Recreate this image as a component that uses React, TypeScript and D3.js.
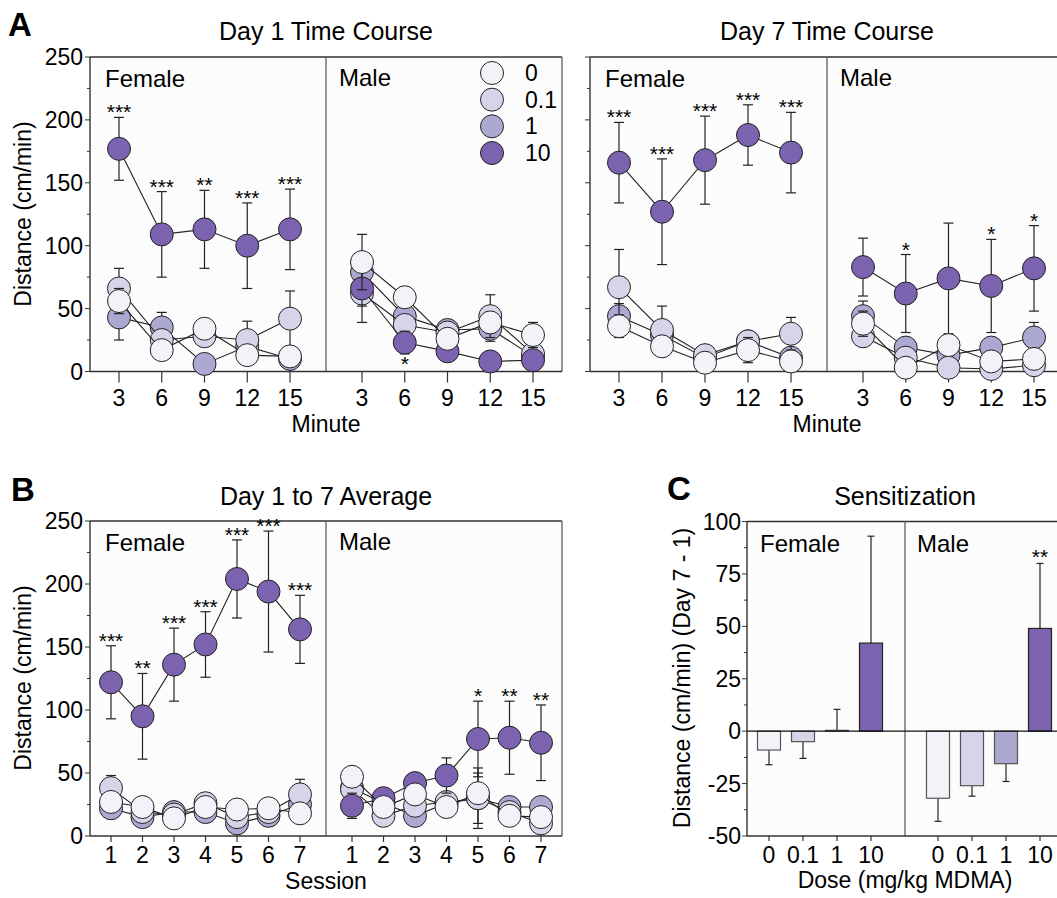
import * as d3 from "d3";

const W = 1057;
const H = 898;
const FONT = '"Liberation Sans", Arial, Helvetica, sans-serif';
const LINE = "#333";
const DIV = "#6a6a6a";
const BG = "#fcfcfc";

const DOSES = ["0", "0.1", "1", "10"];
const DOSE_FILL = ["#f3f2f9", "#d6d4e9", "#aba8d1", "#7b63b0"];
// symbols are stacked in this order (last on top)
const DRAW_ORDER = [2, 1, 3, 0];

const MINUTES = [3, 6, 9, 12, 15];
const SESSIONS = [1, 2, 3, 4, 5, 6, 7];
const Y_TICKS = [0, 50, 100, 150, 200, 250];
const Y_MINOR = [25, 75, 125, 175, 225];
const C_TICKS = [-50, -25, 0, 25, 50, 75, 100];
const C_MINOR = [-37.5, -12.5, 12.5, 37.5, 62.5, 87.5];

// Day 1 time course (rows: dose 0, 0.1, 1, 10)
const D1_F_MEAN = [
  [56, 17, 34, 13, 12],
  [66, 25, 28, 25, 42],
  [43, 35, 6, 20, 10],
  [177, 109, 113, 100, 113],
];
const D1_F_SEM = [
  [10, 6, 5, 5, 4],
  [16, 8, 8, 15, 22],
  [18, 12, 5, 6, 4],
  [25, 34, 31, 34, 32],
];
const D1_F_STARS = ["***", "***", "**", "***", "***"];

const D1_M_MEAN = [
  [87, 59, 26, 39, 29],
  [62, 37, 31, 44, 14],
  [79, 44, 33, 34, 12],
  [66, 23, 16, 8, 9],
];
const D1_M_SEM = [
  [22, 8, 5, 8, 10],
  [10, 6, 4, 17, 5],
  [15, 6, 4, 10, 4],
  [27, 9, 5, 4, 3],
];
const D1_M_STARS = ["", "*", "", "", ""];
const D1_M_STAR_BELOW = [false, true, false, false, false];

// Day 7 time course
const D7_F_MEAN = [
  [36, 20, 7, 17, 8],
  [67, 33, 13, 24, 30],
  [44, 29, 11, 24, 11],
  [166, 127, 168, 188, 174],
];
const D7_F_SEM = [
  [9, 5, 3, 10, 3],
  [30, 19, 5, 8, 13],
  [10, 6, 5, 8, 5],
  [32, 42, 35, 24, 32],
];
const D7_F_STARS = ["***", "***", "***", "***", "***"];

const D7_M_MEAN = [
  [38, 3, 21, 8, 10],
  [28, 11, 3, 2, 5],
  [44, 19, 13, 19, 27],
  [83, 62, 74, 68, 82],
];
const D7_M_SEM = [
  [10, 3, 8, 6, 4],
  [8, 4, 3, 3, 3],
  [12, 8, 8, 8, 12],
  [23, 31, 44, 37, 34],
];
const D7_M_STARS = ["", "*", "", "*", "*"];

// Day 1 to 7 average
const AVG_F_MEAN = [
  [27, 23, 14, 23, 21, 22, 18],
  [38, 19, 17, 26, 15, 19, 33],
  [22, 15, 19, 19, 10, 16, 25],
  [122, 95, 136, 152, 204, 194, 164],
];
const AVG_F_SEM = [
  [5, 4, 4, 4, 3, 4, 4],
  [10, 5, 4, 5, 4, 4, 12],
  [4, 3, 3, 3, 4, 3, 5],
  [29, 34, 29, 26, 31, 48, 27],
];
const AVG_F_STARS = ["***", "**", "***", "***", "***", "***", "***"];

const AVG_M_MEAN = [
  [47, 23, 33, 23, 34, 16, 15],
  [37, 16, 24, 27, 30, 19, 10],
  [38, 26, 16, 26, 30, 23, 23],
  [24, 30, 42, 48, 77, 78, 74],
];
const AVG_M_SEM = [
  [8, 4, 5, 4, 5, 4, 4],
  [5, 4, 5, 5, 24, 3, 4],
  [5, 3, 3, 4, 20, 4, 4],
  [10, 4, 5, 14, 30, 29, 30],
];
const AVG_M_STARS = ["", "", "", "", "*", "**", "**"];

// Sensitization (Day 7 - Day 1)
const SENS_F_MEAN = [-9, -5, 0.4, 42];
const SENS_F_SEM = [7, 8, 10, 51];
const SENS_F_STARS = ["", "", "", ""];
const SENS_M_MEAN = [-32, -26, -15.5, 49];
const SENS_M_SEM = [11, 5, 8.5, 31];
const SENS_M_STARS = ["", "", "", "**"];

type Group = {
  mean: number[][];
  sem: number[][];
  stars: string[];
  below?: boolean[];
};

function Series({ xs, y, g, cap }: { xs: (v: number) => number; y: d3.ScaleLinear<number, number>; g: Group & { xv: number[] }; cap: number }) {
  const line = d3
    .line<number>()
    .x((_, i) => xs(g.xv[i]))
    .y((v) => y(v));
  return (
    <g>
      {DRAW_ORDER.map((d) => (
        <g key={d}>
          {g.mean[d].map((v, i) => {
            const cx = xs(g.xv[i]);
            const y1 = y(v + g.sem[d][i]);
            const y2 = y(v - g.sem[d][i]);
            return (
              <g key={i} stroke="#222" strokeWidth={1.2}>
                <line x1={cx} x2={cx} y1={y1} y2={y2} />
                <line x1={cx - cap / 2} x2={cx + cap / 2} y1={y1} y2={y1} />
                <line x1={cx - cap / 2} x2={cx + cap / 2} y1={y2} y2={y2} />
              </g>
            );
          })}
          <path d={line(g.mean[d]) || ""} fill="none" stroke="#222" strokeWidth={1.1} />
          {g.mean[d].map((v, i) => (
            <circle key={i} cx={xs(g.xv[i])} cy={y(v)} r={11.5} fill={DOSE_FILL[d]} stroke="#222" strokeWidth={1} />
          ))}
        </g>
      ))}
      {g.stars.map((s, i) => {
        if (!s) return null;
        const top = g.mean[3][i] + g.sem[3][i];
        const bot = g.mean[3][i] - g.sem[3][i];
        const below = g.below && g.below[i];
        return (
          <text
            key={i}
            x={xs(g.xv[i])}
            y={below ? y(bot) + 17 : y(top) + 2}
            textAnchor="middle"
            fontSize={21}
            fontFamily={FONT}
          >
            {s}
          </text>
        );
      })}
    </g>
  );
}

function YAxis({ x, y, ticks, minor, labels, labelX }: { x: number; y: d3.ScaleLinear<number, number>; ticks: number[]; minor: number[]; labels: boolean; labelX: number }) {
  return (
    <g>
      {ticks.map((t) => (
        <g key={t}>
          <line x1={x - 5} x2={x} y1={y(t)} y2={y(t)} stroke={LINE} strokeWidth={1} />
          {labels && (
            <text x={labelX} y={y(t) + 8} textAnchor="end" fontSize={23} fontFamily={FONT}>
              {t}
            </text>
          )}
        </g>
      ))}
      {minor.map((t) => (
        <line key={t} x1={x - 3} x2={x} y1={y(t)} y2={y(t)} stroke={LINE} strokeWidth={1} />
      ))}
    </g>
  );
}

function Frame({ left, divider, right, top, bottom }: { left: number; divider: number; right: number; top: number; bottom: number }) {
  return (
    <g>
      <rect x={left} y={top} width={right - left} height={bottom - top} fill={BG} />
      <line x1={left} x2={right} y1={top} y2={top} stroke={LINE} strokeWidth={1.4} />
      <line x1={right} x2={right} y1={top} y2={bottom} stroke={DIV} strokeWidth={1.4} />
      <line x1={divider} x2={divider} y1={top} y2={bottom} stroke={DIV} strokeWidth={1.4} />
      <line x1={left} x2={left} y1={top} y2={bottom} stroke={LINE} strokeWidth={1.4} />
      <line x1={left} x2={right} y1={bottom} y2={bottom} stroke={LINE} strokeWidth={1.4} />
    </g>
  );
}

type LinePanelProps = {
  left: number;
  divider: number;
  right: number;
  top: number;
  bottom: number;
  xv: number[];
  padOut: number;
  padIn: number;
  tickLen: number;
  labelDy: number;
  female: Group;
  male: Group;
  yLabels: boolean;
  cap: number;
};

function LinePanel(p: LinePanelProps) {
  const y = d3.scaleLinear().domain([0, 250]).range([p.bottom, p.top]);
  const first = p.xv[0];
  const last = p.xv[p.xv.length - 1];
  const xf = d3.scaleLinear().domain([first, last]).range([p.left + p.padOut, p.divider - p.padIn]);
  const xm = d3.scaleLinear().domain([first, last]).range([p.divider + p.padIn, p.right - p.padOut]);
  return (
    <g>
      <Frame left={p.left} divider={p.divider} right={p.right} top={p.top} bottom={p.bottom} />
      <YAxis x={p.left} y={y} ticks={Y_TICKS} minor={Y_MINOR} labels={p.yLabels} labelX={p.left - 7} />
      {[xf, xm].map((xs, k) => (
        <g key={k}>
          {p.xv.map((v) => (
            <g key={v}>
              <line x1={xs(v)} x2={xs(v)} y1={p.bottom} y2={p.bottom + p.tickLen} stroke={LINE} strokeWidth={1.2} />
              <text x={xs(v)} y={p.bottom + p.labelDy} textAnchor="middle" fontSize={23} fontFamily={FONT}>
                {v}
              </text>
            </g>
          ))}
        </g>
      ))}
      <text x={p.left + 15} y={p.top + 30} fontSize={24} fontFamily={FONT}>Female</text>
      <text x={p.divider + 13} y={p.top + 29} fontSize={24} fontFamily={FONT}>Male</text>
      <Series xs={xf} y={y} g={{ ...p.female, xv: p.xv }} cap={p.cap} />
      <Series xs={xm} y={y} g={{ ...p.male, xv: p.xv }} cap={p.cap} />
    </g>
  );
}

function BarGroup({ x, y, mean, sem, stars }: { x: d3.ScalePoint<string>; y: d3.ScaleLinear<number, number>; mean: number[]; sem: number[]; stars: string[] }) {
  const bw = 23;
  return (
    <g>
      {DOSES.map((d, i) => {
        const cx = x(d) as number;
        const v = mean[i];
        const end = v + Math.sign(v) * sem[i];
        return (
          <g key={d}>
            <line x1={cx} x2={cx} y1={y(v)} y2={y(end)} stroke="#222" strokeWidth={1.2} />
            <line x1={cx - 3.5} x2={cx + 3.5} y1={y(end)} y2={y(end)} stroke="#222" strokeWidth={1.2} />
            <rect
              x={cx - bw / 2}
              y={Math.min(y(v), y(0))}
              width={bw}
              height={Math.abs(y(v) - y(0))}
              fill={DOSE_FILL[i]}
              stroke={i === 3 ? "#222" : "#555"}
              strokeWidth={1.2}
            />
            {stars[i] && (
              <text x={cx} y={y(end) + 1} textAnchor="middle" fontSize={21} fontFamily={FONT}>
                {stars[i]}
              </text>
            )}
          </g>
        );
      })}
    </g>
  );
}

function BarPanel() {
  const left = 747;
  const divider = 905;
  const right = 1063;
  const top = 521.5;
  const bottom = 836;
  const y = d3.scaleLinear().domain([-50, 100]).range([bottom, top]);
  const xf = d3.scalePoint<string>().domain(DOSES).range([left + 22, divider - 34]);
  const xm = d3.scalePoint<string>().domain(DOSES).range([divider + 33, right - 23]);
  return (
    <g>
      <Frame left={left} divider={divider} right={right} top={top} bottom={bottom} />
      <YAxis x={left} y={y} ticks={C_TICKS} minor={C_MINOR} labels={true} labelX={left - 6} />
      {[xf, xm].map((xs, k) => (
        <g key={k}>
          {DOSES.map((d) => (
            <g key={d}>
              <line x1={xs(d)} x2={xs(d)} y1={bottom} y2={bottom + 5} stroke={LINE} strokeWidth={1.2} />
              <text x={xs(d)} y={bottom + 27} textAnchor="middle" fontSize={23} fontFamily={FONT}>
                {d}
              </text>
            </g>
          ))}
        </g>
      ))}
      <text x={left + 13} y={top + 30} fontSize={24} fontFamily={FONT}>Female</text>
      <text x={divider + 12} y={top + 30} fontSize={24} fontFamily={FONT}>Male</text>
      <BarGroup x={xf} y={y} mean={SENS_F_MEAN} sem={SENS_F_SEM} stars={SENS_F_STARS} />
      <BarGroup x={xm} y={y} mean={SENS_M_MEAN} sem={SENS_M_SEM} stars={SENS_M_STARS} />
      <line x1={left} x2={right} y1={y(0)} y2={y(0)} stroke="#111" strokeWidth={1.4} />
    </g>
  );
}

function Legend({ x, y }: { x: number; y: number }) {
  const ly = d3.scaleLinear().domain([0, 3]).range([y, y + 80]);
  return (
    <g>
      {DOSES.map((d, i) => (
        <g key={d}>
          <circle cx={x} cy={ly(i)} r={11.5} fill={DOSE_FILL[i]} stroke="#222" strokeWidth={1} />
          <text x={x + 33} y={ly(i) + 8} fontSize={23} fontFamily={FONT}>{d}</text>
        </g>
      ))}
    </g>
  );
}

function YTitle({ x, y, text }: { x: number; y: number; text: string }) {
  return (
    <text transform={`translate(${x},${y}) rotate(-90)`} textAnchor="middle" fontSize={23} fontFamily={FONT}>
      {text}
    </text>
  );
}

export default function App() {
  return (
    <>
      <style>{`html,body{margin:0;padding:0;background:#fff;}`}</style>
      <svg width={W} height={H} viewBox={`0 0 ${W} ${H}`} style={{ display: "block" }} fontFamily={FONT}>
        <rect width={W} height={H} fill="#fff" />

        {/* Panel A */}
        <text x={8} y={36} fontSize={33} fontWeight={700} fontFamily={FONT}>A</text>
        <text x={326} y={40} textAnchor="middle" fontSize={25} fontFamily={FONT}>Day 1 Time Course</text>
        <text x={827} y={40} textAnchor="middle" fontSize={25} fontFamily={FONT}>Day 7 Time Course</text>
        <YTitle x={31} y={214} text="Distance (cm/min)" />
        <LinePanel
          left={90}
          divider={326}
          right={562}
          top={57}
          bottom={371.5}
          xv={MINUTES}
          padOut={29}
          padIn={36}
          tickLen={11}
          labelDy={34}
          yLabels={true}
          cap={10}
          female={{ mean: D1_F_MEAN, sem: D1_F_SEM, stars: D1_F_STARS }}
          male={{ mean: D1_M_MEAN, sem: D1_M_SEM, stars: D1_M_STARS, below: D1_M_STAR_BELOW }}
        />
        <Legend x={492} y={73} />
        <LinePanel
          left={590}
          divider={827}
          right={1063}
          top={57}
          bottom={371.5}
          xv={MINUTES}
          padOut={29}
          padIn={36}
          tickLen={11}
          labelDy={34}
          yLabels={false}
          cap={10}
          female={{ mean: D7_F_MEAN, sem: D7_F_SEM, stars: D7_F_STARS }}
          male={{ mean: D7_M_MEAN, sem: D7_M_SEM, stars: D7_M_STARS }}
        />
        <text x={326} y={432} textAnchor="middle" fontSize={23} fontFamily={FONT}>Minute</text>
        <text x={827} y={432} textAnchor="middle" fontSize={23} fontFamily={FONT}>Minute</text>

        {/* Panel B */}
        <text x={11} y={501} fontSize={33} fontWeight={700} fontFamily={FONT}>B</text>
        <text x={326} y={505} textAnchor="middle" fontSize={25} fontFamily={FONT}>Day 1 to 7 Average</text>
        <YTitle x={31} y={678} text="Distance (cm/min)" />
        <LinePanel
          left={90}
          divider={326}
          right={562}
          top={521}
          bottom={836}
          xv={SESSIONS}
          padOut={21}
          padIn={26}
          tickLen={6}
          labelDy={27}
          yLabels={true}
          cap={10}
          female={{ mean: AVG_F_MEAN, sem: AVG_F_SEM, stars: AVG_F_STARS }}
          male={{ mean: AVG_M_MEAN, sem: AVG_M_SEM, stars: AVG_M_STARS }}
        />
        <text x={326} y={889} textAnchor="middle" fontSize={23} fontFamily={FONT}>Session</text>

        {/* Panel C */}
        <text x={667} y={500} fontSize={33} fontWeight={700} fontFamily={FONT}>C</text>
        <text x={905} y={505} textAnchor="middle" fontSize={25} fontFamily={FONT}>Sensitization</text>
        <YTitle x={690} y={678} text="Distance (cm/min) (Day 7 - 1)" />
        <BarPanel />
        <text x={905} y={888} textAnchor="middle" fontSize={23} fontFamily={FONT}>Dose (mg/kg MDMA)</text>
      </svg>
    </>
  );
}
